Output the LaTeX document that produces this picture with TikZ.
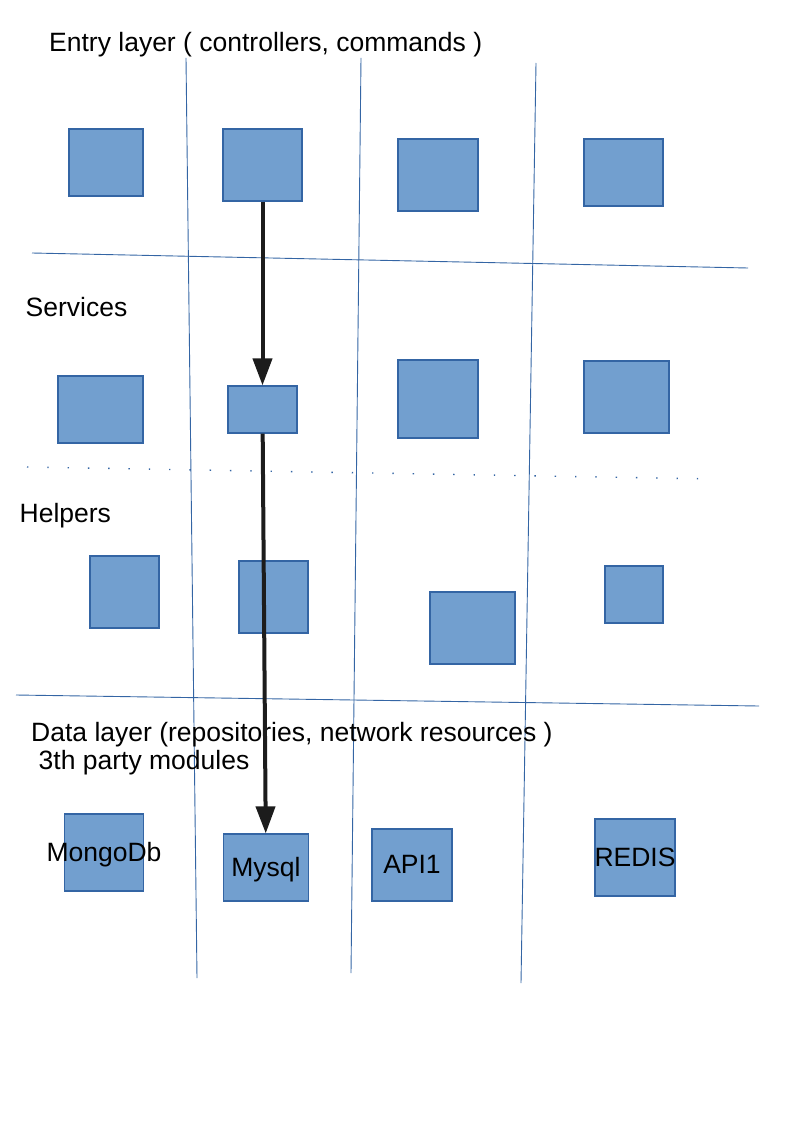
\documentclass[tikz,border=0pt]{standalone}
\usepackage{fontspec}
\setmainfont{Liberation Sans}
\usetikzlibrary{arrows.meta}
\definecolor{boxfill}{HTML}{729FCF}
\definecolor{boxline}{HTML}{3465A4}
\definecolor{flowline}{HTML}{1C1C1C}
\begin{document}
\begin{tikzpicture}[x=1pt, y=-1pt, font=\fontsize{26.5}{31}\selectfont,
  box/.style={draw=boxline, fill=boxfill, line width=1.2pt, inner sep=0pt, text height=18pt, text depth=1pt},
  grid/.style={draw=boxline, line width=0.9pt},
  dotrow/.style={draw=boxline, line width=1.4pt, dash pattern=on 1.4pt off 18.9pt},
  layertext/.style={anchor=base west, inner sep=0pt},
  flow/.style={draw=flowline, line width=4pt, -{Triangle[length=27pt,width=19pt]}}]
  \useasboundingbox (0,0) rectangle (794,1123);
  % lanes and layers
  \draw [grid] (186,58) -- (197,978);
  \draw [grid] (361,58) -- (351,973);
  \draw [grid] (536,63) -- (521,983);
  \draw [grid] (32,253) -- (748,268);
  \draw [grid] (16,695) -- (759,706);
  \draw [dotrow] (27,467) -- (715,479);
  \node [layertext] (lentry) at (49,51.5) {Entry layer ( controllers, commands )};
  \node [layertext] (lserv) at (25.5,316.5) {Services};
  \node [layertext] (lhelp) at (19.5,522.5) {Helpers};
  \node [layertext] (ldata) at (31,741) {Data layer (repositories, network resources )};
  \node [layertext] (lparty) at (38.5,769.5) {3th party modules};
  \node [box, minimum width=74pt, minimum height=67pt] (e1) at (106,162.5) {};
  \node [box, minimum width=79pt, minimum height=72pt] (e2) at (262.5,165) {};
  \node [box, minimum width=80pt, minimum height=72pt] (e3) at (438,175) {};
  \node [box, minimum width=79pt, minimum height=67pt] (e4) at (623.5,172.5) {};
  \node [box, minimum width=85pt, minimum height=67pt] (s1) at (100.5,409.5) {};
  \node [box, minimum width=69pt, minimum height=47pt] (s2) at (262.5,409.5) {};
  \node [box, minimum width=80pt, minimum height=78pt] (s3) at (438,399) {};
  \node [box, minimum width=85pt, minimum height=72pt] (s4) at (626.5,397) {};
  \node [box, minimum width=69pt, minimum height=72pt] (h1) at (124.5,592) {};
  \node [box, minimum width=69pt, minimum height=72pt] (h2) at (273.5,597) {};
  \node [box, minimum width=85pt, minimum height=72pt] (h3) at (472.5,628) {};
  \node [box, minimum width=58pt, minimum height=57pt] (h4) at (634,594.5) {};
  \node [box, minimum width=79pt, minimum height=77pt] (mongo) at (104,852.5) {\makebox[0pt]{MongoDb}};
  \node [box, minimum width=85pt, minimum height=67pt] (mysql) at (266,867.5) {\makebox[0pt]{Mysql}};
  \node [box, minimum width=80pt, minimum height=72pt] (api) at (412,865) {\makebox[0pt]{API1}};
  \node [box, minimum width=80pt, minimum height=77pt] (redis) at (635,857.5) {\makebox[0pt]{REDIS}};
  \draw [flow] (e2) -- (s2);
  \draw [flow] (s2) -- (mysql);
\end{tikzpicture}
\end{document}
